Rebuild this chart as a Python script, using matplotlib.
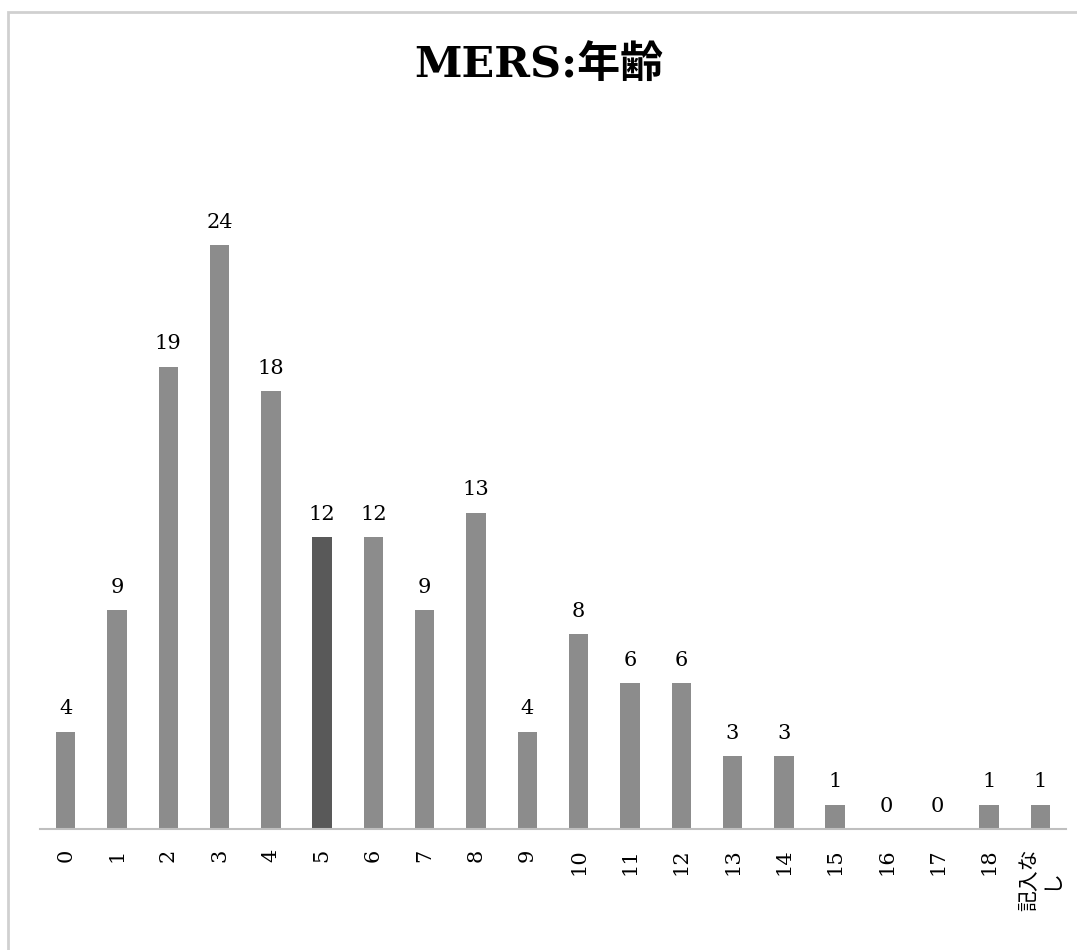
import matplotlib.pyplot as plt
from matplotlib.patches import Rectangle

plt.rcParams['font.family'] = ['DejaVu Serif', 'Noto Sans CJK JP']

ages = ['0', '1', '2', '3', '4', '5', '6', '7', '8', '9', '10',
        '11', '12', '13', '14', '15', '16', '17', '18', '記入な\nし']
counts = [4, 9, 19, 24, 18, 12, 12, 9, 13, 4, 8, 6, 6, 3, 3, 1, 0, 0, 1, 1]
highlight = 5

fig = plt.figure(figsize=(10.77, 9.5), dpi=100)
ax = fig.add_axes([40 / 1077, 121 / 950, 1026 / 1077, 657 / 950])

colors = ['#8c8c8c'] * len(counts)
colors[highlight] = '#595959'
x = range(len(counts))
bars = ax.bar(x, counts, width=0.38, color=colors)

for b, v in zip(bars, counts):
    ax.text(b.get_x() + b.get_width() / 2, v + 0.55, str(v),
            ha='center', va='bottom', fontsize=15)

ax.set_xlim(-0.5, len(counts) - 0.5)
ax.set_ylim(0, 27)
ax.set_xticks(list(x))
ax.set_xticklabels(ages, rotation=90, fontsize=15, va='top', ha='center',
                   multialignment='center')
ax.tick_params(axis='x', length=0, pad=14)
ax.set_yticks([])
for s in ['top', 'right', 'left']:
    ax.spines[s].set_visible(False)
ax.spines['bottom'].set_color('#bfbfbf')
ax.spines['bottom'].set_linewidth(1.5)

fig.text(0.5, 1 - 65 / 950, 'MERS:年齢', ha='center', va='center',
         fontsize=31, fontweight='bold')

# outer frame
fig.patches.append(Rectangle((8 / 1077, -0.05), 1.1, 1 - 11.5 / 950 + 0.05,
                             transform=fig.transFigure, fill=False,
                             edgecolor='#d0d0d0', linewidth=2))

fig.savefig('out.png', dpi=100)
